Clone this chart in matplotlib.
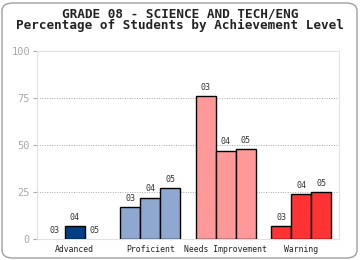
import matplotlib
matplotlib.use("Agg")
import matplotlib.pyplot as plt
from matplotlib.patches import FancyBboxPatch
import numpy as np

categories = ["Advanced", "Proficient", "Needs Improvement", "Warning"]
years = ["03", "04", "05"]
values = {
    "Advanced": [0, 7, 0],
    "Proficient": [17, 22, 27],
    "Needs Improvement": [76, 47, 48],
    "Warning": [7, 24, 25],
}
colors = ["#003f87", "#8fa8cf", "#ff9999", "#ff3333"]
yticks = [0, 25, 50, 75, 100]
title1 = "GRADE 08 - SCIENCE AND TECH/ENG"
title2 = "Percentage of Students by Achievement Level"

mono = "DejaVu Sans Mono"
fig = plt.figure(figsize=(3.6, 2.6), dpi=100)
fig.patch.set_facecolor("white")
border = FancyBboxPatch((2/360, 2/260), 355/360, 255/260,
                        boxstyle="round,pad=0,rounding_size=0.03",
                        transform=fig.transFigure, facecolor="none",
                        edgecolor="#a0a0a0", linewidth=1.0, zorder=-1)
fig.patches.append(border)

ax = fig.add_axes([37/360, 1-239/260, 302/360, 188/260])
ax.set_facecolor("none")
w = 20/75
for i, cat in enumerate(categories):
    for j, v in enumerate(values[cat]):
        x = i + (j - 1) * w
        if v > 0:
            ax.bar(x, v, width=w, color=colors[i], edgecolor="black",
                   linewidth=1.0, zorder=3)
        ax.annotate(years[j], (x, v), xytext=(0, 3), textcoords="offset points",
                    ha="center", va="bottom", fontsize=6, family=mono,
                    color="#333333", zorder=4)

ax.set_xlim(-0.5, 3.5)
ax.set_ylim(0, 100)
ax.set_yticks(yticks)
ax.set_yticklabels([str(t) for t in yticks], family=mono, fontsize=7.5, color="#aaaaaa")
ax.set_xticks(range(len(categories)))
ax.set_xticklabels(categories, family=mono, fontsize=5.9, color="#222222")
ax.tick_params(axis="x", length=0, pad=4)
ax.tick_params(axis="y", length=3, color="#aaaaaa", pad=2)
for s in ax.spines.values():
    s.set_color("#e2e2e2")
    s.set_linewidth(0.8)
for t in [25, 50, 75]:
    ax.axhline(t, color="#aaaaaa", linestyle=(0, (1, 1.5)), linewidth=0.7, zorder=1)

fig.text(0.5, 1-14/260, title1, ha="center", va="center", family=mono,
         fontsize=9.2, fontweight="bold", color="#222222")
fig.text(0.5, 1-25.5/260, title2, ha="center", va="center", family=mono,
         fontsize=9.1, fontweight="bold", color="#222222")

fig.savefig("out.png", dpi=100, facecolor="white")
